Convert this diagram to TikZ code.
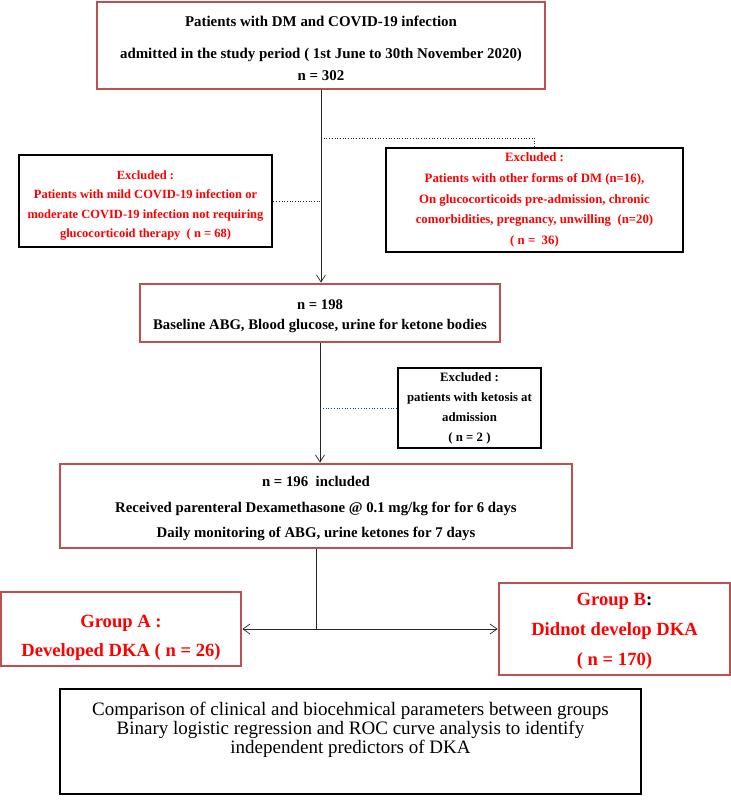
\documentclass[tikz,border=0pt]{standalone}
\usepackage{fontspec}
\setmainfont{Liberation Serif}
\usetikzlibrary{arrows.meta}
\definecolor{boxred}{RGB}{192,80,77}

\begin{document}
\begin{tikzpicture}[x=1pt, y=-1pt,
    redbox/.style={draw=boxred, line width=2.8pt, align=center, inner sep=0pt},
    blackbox/.style={draw=black, line width=2.8pt, align=center, inner sep=0pt},
    redtxt/.style={text=red, font=\bfseries\fontsize{12.6}{20}\selectfont},
    line/.style={draw=black!85, line width=0.7pt},
    tip/.style={-{Straight Barb[length=7pt, width=9pt]}}]
    \useasboundingbox (0, 0) rectangle (731, 801);

    \node[redbox, minimum width=448, minimum height=87, font=\bfseries\fontsize{14.9}{22}\selectfont] (top) at (321, 45.5)
        {\rule{0pt}{15.5pt}Patients with DM and COVID-19 infection\\[10pt] admitted in the study period ( 1st June to 30th November 2020)\\ n = 302};
    \node[blackbox, redtxt, minimum width=253, minimum height=92, font=\bfseries\fontsize{12.5}{19.4}\selectfont] (exL) at (145.5, 201)
        {\rule{0pt}{18pt}Excluded :\\ Patients with mild COVID-19 infection or\\ moderate COVID-19 infection not requiring\\ glucocorticoid therapy \ ( n = 68)};
    \node[blackbox, redtxt, minimum width=297, minimum height=104, font=\bfseries\fontsize{12.8}{20.7}\selectfont] (exR) at (534.5, 200)
        {Excluded :\\ Patients with other forms of DM (n=16),\\ On glucocorticoids pre-admission, chronic\\ comorbidities, pregnancy, unwilling \ (n=20)\\ ( n = \ 36)};
    \node[redbox, minimum width=360, minimum height=58, font=\bfseries\fontsize{14.7}{20}\selectfont] (base) at (320, 313)
        {\rule{0pt}{17pt}n = 198\\ Baseline ABG, Blood glucose, urine for ketone bodies};
    \node[blackbox, minimum width=143, minimum height=80, font=\bfseries\fontsize{12.8}{20}\selectfont] (exS) at (469.5, 408)
        {Excluded :\\ patients with ketosis at\\ admission\\ ( n = 2 )};
    \node[redbox, minimum width=512, minimum height=84, font=\bfseries\fontsize{14.8}{25.5}\selectfont] (incl) at (316, 506)
        {\rule{0pt}{16pt}n = 196 \ included\\ Received parenteral Dexamethasone @ 0.1 mg/kg for for 6 days\\ Daily monitoring of ABG, urine ketones for 7 days};
    \node[redbox, text=red, minimum width=240, minimum height=74, font=\bfseries\fontsize{18.6}{29}\selectfont] (grpA) at (121, 629)
        {\rule{0pt}{29pt}Group A :\\ Developed DKA ( n = 26)};
    \node[redbox, text=red, minimum width=231, minimum height=92, font=\bfseries\fontsize{18.6}{30}\selectfont] (grpB) at (614.5, 629)
        {\rule{0pt}{16.5pt}Group B\textcolor{black}{:}\\ Didnot develop DKA\\ ( n = 170)};
    \node[draw=black, line width=2.2pt, minimum width=581, minimum height=105, align=center, inner sep=0pt, font=\fontsize{19}{19}\selectfont] (comp) at (350.5, 741.5)
        {Comparison of clinical and biocehmical parameters between groups\\ Binary logistic regression and ROC curve analysis to identify\\ independent predictors of DKA\\[8pt]\mbox{}};

    % 線を引く
    \coordinate (j1) at (321, 138);
    \draw[line, tip] (top.south) -- (top.south |- base.north);
    \draw[line, dotted] (j1) -| (exR.north);
    \draw[line, dotted] (exL.east) -- (exL.east -| top.south);
    \draw[line, tip] (base.south) -- (base.south |- incl.north);
    \draw[draw=blue!50!teal, line width=0.7pt, dotted] (exS.west) -- (exS.west -| base.south);
    \draw[line] (incl.south) -- (incl.south |- grpA.east);
    \draw[line, {Straight Barb[length=7pt, width=10pt]}-{Straight Barb[length=7pt, width=10pt]}] (grpA) -- (grpB);
\end{tikzpicture}
\end{document}
